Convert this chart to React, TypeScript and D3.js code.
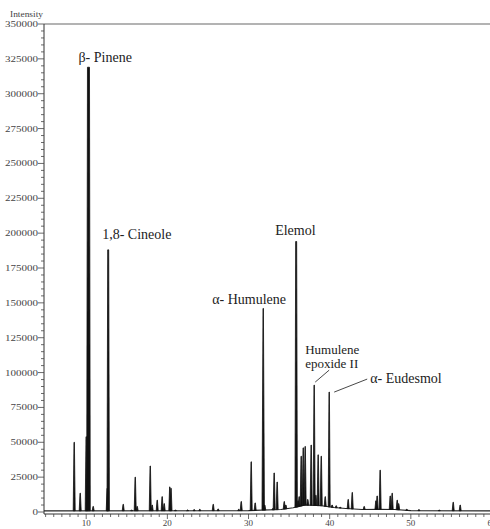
import React from 'react';
import * as d3 from 'd3';

// retention time (min) and intensity of each peak
const peakTimes = [
  8.52, 9.26, 10.0, 10.28, 10.86, 12.59, 12.71, 14.56, 15.6, 16.04, 16.28, 17.89, 18.13, 18.75,
  19.36, 19.61, 20.3, 20.45, 21.0, 22.5, 23.3, 24.0, 25.65, 26.26, 28.8, 29.1, 30.33, 30.82,
  31.81, 32.0, 33.0, 33.16, 33.53, 34.4, 34.6, 35.87, 36.1, 36.24, 36.49, 36.74, 36.98, 37.3,
  37.72, 38.09, 38.3, 38.58, 38.96, 39.45, 39.94, 40.3, 40.8, 41.3, 42.28, 42.78, 44.25, 45.7,
  45.85, 46.22, 47.46, 47.7, 48.32, 48.5, 49.5, 51.0, 53.5, 55.22, 56.08,
];
const peakIntensities = [
  50000, 13500, 54000, 319000, 4000, 17000, 188000, 5500, 1500, 25000, 4000, 33000, 5000, 8500,
  11000, 6000, 18000, 17000, 1500, 1500, 1800, 2000, 5500, 2200, 2000, 7500, 36000, 6500,
  146000, 5000, 2500, 28000, 21500, 7500, 5000, 194000, 8000, 11000, 40000, 46000, 47000, 9000,
  48000, 91000, 12000, 41000, 40000, 11000, 86000, 5000, 4500, 3500, 9000, 14000, 4000, 8000,
  11500, 30000, 11500, 13500, 8500, 6000, 2000, 1800, 1500, 7000, 5000,
];

// slowly drifting baseline
const baseTimes = [4.8, 30, 34, 35.5, 37, 39, 40.5, 42, 44, 46, 48, 50, 60];
const baseValues = [800, 1000, 1800, 3000, 5000, 4500, 3200, 2500, 1800, 2000, 1800, 1000, 800];

// labelled compounds
const labelNames = ['β- Pinene', '1,8- Cineole', 'α- Humulene', 'Elemol', 'Humulene\nepoxide II', 'α- Eudesmol'];
const labelTimes = [10.28, 12.71, 31.81, 35.87, 38.09, 39.94];

const yTicks = d3.range(0, 350001, 25000);
const yMinor = d3.range(0, 350001, 5000);
const xTicks = [10, 20, 30, 40, 50, 60];
const xMinor = d3.range(5, 61, 1);

// text placement relative to the peak top (px)
const labelLayout = [
  { dx: -10, dy: -5 },
  { dx: -6, dy: -11 },
  { dx: -51, dy: -4 },
  { dx: -21, dy: -7 },
  { dx: -9, dy: -17, lead: [1, -3, 15, -15] },
  { dx: 41, dy: -9, lead: [5, 0, 38, -13] },
];

const W = 490;
const H = 529;
const left = 44;
const x = d3.scaleLinear().domain([4.8, 60]).range([left, 492]);
const y = d3.scaleLinear().domain([0, 350000]).range([512, 24]);
const base = d3.scaleLinear().domain(baseTimes).range(baseValues).clamp(true);

const serif = '"Liberation Serif", "DejaVu Serif", serif';

export default function App() {
  const baseLine = d3
    .line<number>()
    .x((t) => x(t))
    .y((t) => y(base(t)))(baseTimes);

  const peakPath = (t: number, h: number) => {
    const px = x(t);
    const b = y(base(t));
    const top = y(h);
    const tw = h > 250000 ? 1.0 : h > 150000 ? 0.5 : 0.2;
    const bw = h > 250000 ? 1.8 : h > 100000 ? 1.2 : 1.0;
    return `M${px - bw},${b}L${px - tw},${top}L${px + tw},${top}L${px + bw},${b}Z`;
  };

  return (
    <svg
      width={W}
      height={H}
      style={{ position: 'absolute', left: 0, top: 0, background: '#fff' }}
    >
      {/* frame top */}
      <line x1={left} x2={W} y1={y(350000)} y2={y(350000)} stroke="#9a9a9a" strokeWidth={1.5} />
      {/* y axis */}
      <line x1={left} x2={left} y1={y(350000)} y2={y(0) + 2} stroke="#333" strokeWidth={1} />
      {yMinor.map((v) => (
        <line key={'ym' + v} x1={left - (v % 25000 === 0 ? 6 : 3)} x2={left} y1={y(v)} y2={y(v)} stroke="#444" strokeWidth={0.8} />
      ))}
      {yTicks.map((v) => (
        <text
          key={'yt' + v}
          x={left - 6}
          y={y(v) + 3}
          textAnchor="end"
          fontFamily={serif}
          fontSize={8.5}
          fill="#444"
          textLength={String(v).length * 5.5}
          lengthAdjust="spacingAndGlyphs"
        >
          {v}
        </text>
      ))}
      <text x={10} y={17} fontFamily={serif} fontSize={8.5} fill="#444" textLength={33} lengthAdjust="spacingAndGlyphs">
        Intensity
      </text>

      {/* x axis */}
      <line x1={left} x2={W} y1={y(0) + 2} y2={y(0) + 2} stroke="#333" strokeWidth={1} />
      {xMinor.map((v) => (
        <line key={'xm' + v} x1={x(v)} x2={x(v)} y1={y(0) + 2} y2={y(0) + (v % 10 === 0 ? 7 : 5)} stroke="#444" strokeWidth={0.8} />
      ))}
      {xTicks.map((v) => (
        <text key={'xt' + v} x={x(v)} y={y(0) + 14} textAnchor="middle" fontFamily={serif} fontSize={9} fill="#444">
          {v}
        </text>
      ))}

      {/* chromatogram */}
      <path d={baseLine || ''} fill="none" stroke="#222" strokeWidth={1.1} />
      {peakTimes.map((t, i) => (
        <path key={'p' + i} d={peakPath(t, peakIntensities[i])} fill="#111" stroke="#111" strokeWidth={0.8} strokeLinejoin="round" />
      ))}

      {/* annotations */}
      {labelNames.map((name, i) => {
        const t = labelTimes[i];
        const h = peakIntensities[peakTimes.indexOf(t)];
        const px = x(t);
        const py = y(h);
        const lay = labelLayout[i];
        const lines = name.split('\n');
        const lh = 14;
        return (
          <g key={'l' + i}>
            {lines.map((ln, j) => (
              <text
                key={j}
                x={px + lay.dx}
                y={py + lay.dy + (j - (lines.length - 1)) * lh}
                fontFamily={serif}
                fontSize={lines.length > 1 ? 13 : 14}
                fill="#222"
              >
                {ln}
              </text>
            ))}
            {lay.lead && (
              <line
                x1={px + lay.lead[0]}
                y1={py + lay.lead[1]}
                x2={px + lay.lead[2]}
                y2={py + lay.lead[3]}
                stroke="#333"
                strokeWidth={0.9}
              />
            )}
          </g>
        );
      })}
    </svg>
  );
}
